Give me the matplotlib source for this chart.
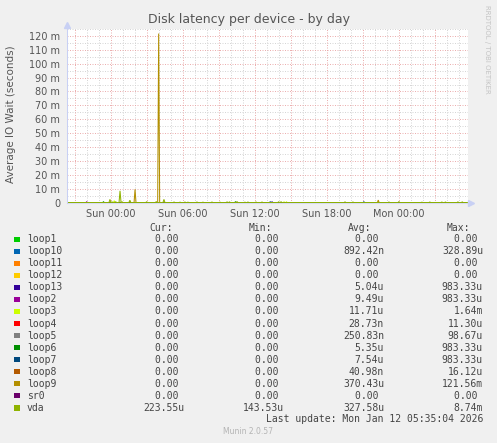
#!/usr/bin/env python3
# -*- coding: utf-8 -*-
"""
Munin style disk latency graph (by day), drawn with matplotlib.
"""

import matplotlib
matplotlib.use('Agg')
import matplotlib.pyplot as plt
from matplotlib.patches import Rectangle

W, H = 497, 443

series_names = ['loop1', 'loop10', 'loop11', 'loop12', 'loop13', 'loop2',
                'loop3', 'loop4', 'loop5', 'loop6', 'loop7', 'loop8',
                'loop9', 'sr0', 'vda']
series_colors = ['#00CC00', '#0066B3', '#FF8000', '#FFCC00', '#330099',
                 '#990099', '#CCFF00', '#FF0000', '#808080', '#008F00',
                 '#00487D', '#B35A00', '#B38F00', '#6B006B', '#8FB300']

cur_values = [0, 0, 0, 0, 0, 0, 0, 0, 0, 0, 0, 0, 0, 0, 223.55e-6]
min_values = [0, 0, 0, 0, 0, 0, 0, 0, 0, 0, 0, 0, 0, 0, 143.53e-6]
avg_values = [0, 892.42e-9, 0, 0, 5.04e-6, 9.49e-6, 11.71e-6, 28.73e-9,
              250.83e-9, 5.35e-6, 7.54e-6, 40.98e-9, 370.43e-6, 0,
              327.58e-6]
max_values = [0, 328.89e-6, 0, 0, 983.33e-6, 983.33e-6, 1.64e-3, 11.30e-6,
              98.67e-6, 983.33e-6, 983.33e-6, 16.12e-6, 121.56e-3, 0,
              8.74e-3]

# peaks, hours relative to Sun 00:00, values in milliseconds
vda_base_ms = 0.3
vda_peak_hours = [-0.06, 0.12, 0.42, 0.78, 0.96, 1.6, 3.0, 3.8, 4.44, 5.28,
                  5.78, 6.19, 6.44, 7.19, 7.69, 8.44, 9.11, 9.7, 9.9, 10.53,
                  11.19, 11.44, 12.11, 12.61, 14.0, 14.2, 19.53, 20.19,
                  23.19, 24.02, 25.94, 26.6, 27.6, 27.9, 28.94, 29.3]
vda_peak_ms = [2.6, 0.8, 0.9, 8.74, 0.8, 2.0, 0.9, 1.0, 2.6, 0.7,
               0.6, 0.7, 0.6, 0.7, 0.6, 0.7, 0.6, 0.8, 0.8, 1.0,
               0.6, 0.7, 0.7, 0.7, 0.9, 0.9, 0.8, 0.7,
               0.7, 1.0, 0.6, 0.7, 0.7, 0.7, 0.8, 0.8]
loop9_peak_hours = [2.03, 4.0, 22.3]
loop9_peak_ms = [9.8, 121.56, 2.1]
loop3_peak_hours = [0.3, 14.45, 14.65]
loop3_peak_ms = [1.64, 0.9, 0.9]
loop2_peak_hours = [-2.0]
loop2_peak_ms = [0.98]
loop6_peak_hours = [-0.6, 10.4]
loop6_peak_ms = [0.98, 0.98]
loop7_peak_hours = [13.3, 21.1]
loop7_peak_ms = [0.98, 0.98]
loop13_peak_hours = [13.45]
loop13_peak_ms = [0.98]
loop10_peak_hours = [21.25]
loop10_peak_ms = [0.33]
loop5_peak_hours = [16.0]
loop5_peak_ms = [0.1]

label_hours = [0, 6, 12, 18, 24]
label_texts = ['Sun 00:00', 'Sun 06:00', 'Sun 12:00', 'Sun 18:00',
               'Mon 00:00']

X_START, X_END = -3.64, 29.78
HALF = 0.083


def build_line(peak_hours, peak_ms, base=0.0):
    """
    Turns a list of peaks into a polyline over the whole time range
    """
    hours = [X_START]
    values = [base]
    for h, v in zip(peak_hours, peak_ms):
        hours += [h - HALF, h, h + HALF]
        values += [base, v, base]
    hours.append(X_END)
    values.append(base)
    return hours, values


def si(value):
    if value == 0:
        return '0.00 '
    for factor, suffix in ((1e-9, 'n'), (1e-6, 'u'), (1e-3, 'm')):
        if abs(value) < factor * 999.995:
            return '%.2f%s' % (value / factor, suffix)
    return '%.2f ' % value


def fx(x):
    return x / W


def fy(y):
    return 1 - y / H


peaks = {
    'vda': (vda_peak_hours, vda_peak_ms, vda_base_ms),
    'loop9': (loop9_peak_hours, loop9_peak_ms, 0.0),
    'loop3': (loop3_peak_hours, loop3_peak_ms, 0.0),
    'loop2': (loop2_peak_hours, loop2_peak_ms, 0.0),
    'loop6': (loop6_peak_hours, loop6_peak_ms, 0.0),
    'loop7': (loop7_peak_hours, loop7_peak_ms, 0.0),
    'loop13': (loop13_peak_hours, loop13_peak_ms, 0.0),
    'loop10': (loop10_peak_hours, loop10_peak_ms, 0.0),
    'loop5': (loop5_peak_hours, loop5_peak_ms, 0.0),
}

BG = '#F0F0F0'
figure = plt.figure(figsize=(W / 100, H / 100), dpi=100, facecolor=BG)
axes = figure.add_axes([fx(67), fy(203), (468 - 67) / W, (203 - 28.75) / H])
axes.set_facecolor('white')

for name, color in zip(series_names, series_colors):
    if name in peaks:
        hours, values = build_line(*peaks[name])
    else:
        hours, values = [X_START, X_END], [0.0, 0.0]
    axes.plot(hours, values, color=color, lw=0.75, zorder=3,
              solid_joinstyle='miter')

axes.set_xlim(X_START, X_END)
axes.set_ylim(0, 125)

# grid
for h in range(-3, 30):
    if h % 3:
        axes.axvline(h, color='#CFCFCF', lw=0.6, ls=(0, (1.2, 1.8)), zorder=1)
for h in range(-3, 30, 3):
    axes.axvline(h, color='#E8A0A0', lw=0.6, ls=(0, (1.2, 1.8)), zorder=2)
for v in range(5, 130, 10):
    axes.axhline(v, color='#CFCFCF', lw=0.6, ls=(0, (1.2, 1.8)), zorder=1)
for v in range(10, 130, 10):
    axes.axhline(v, color='#E8A0A0', lw=0.6, ls=(0, (1.2, 1.8)), zorder=2)

for side in axes.spines.values():
    side.set_visible(False)

# axes with arrows
AXIS = '#C8D0F4'
axes.plot([X_START, 30.0], [0, 0], color=AXIS, lw=0.75, clip_on=False,
          zorder=4, alpha=0.65)
axes.plot([X_START, X_START], [0, 127], color=AXIS, lw=0.75, clip_on=False,
          zorder=4)
axes.plot([30.05], [0], marker='>', ms=4, color=AXIS, mec=AXIS,
          clip_on=False, zorder=4)
axes.plot([X_START], [127.5], marker='^', ms=4, color=AXIS, mec=AXIS,
          clip_on=False, zorder=4)

axes.set_xticks(label_hours)
axes.set_xticklabels(label_texts)
y_ticks = list(range(0, 121, 10))
axes.set_yticks(y_ticks)
axes.set_yticklabels(['0'] + ['%d m' % v for v in y_ticks[1:]])
axes.tick_params(length=0, labelsize=7, colors='#555555')
axes.tick_params(axis='x', pad=4.5)
axes.tick_params(axis='y', pad=5)

figure.text(fx(248.5), fy(19.5), 'Disk latency per device - by day',
            ha='center', va='center', fontsize=9, color='#555555')
figure.text(fx(11), fy(114), 'Average IO Wait (seconds)', rotation=90,
            ha='center', va='center', fontsize=7.5, color='#555555')
figure.text(fx(487), fy(5), 'RRDTOOL / TOBI OETIKER', rotation=270,
            ha='center', va='top', fontsize=5, color='#C4C4C4')

# legend
MONO = dict(family='DejaVu Sans Mono', fontsize=7, color='#444444')
header_y = 228.3
for text, x in (('Cur:', 149), ('Min:', 249), ('Avg:', 348), ('Max:', 447)):
    figure.text(fx(x), fy(header_y), text, ha='left', va='center', **MONO)

for i, name in enumerate(series_names):
    y = 239.3 + i * 12.03
    figure.add_artist(Rectangle((fx(14), fy(y + 2.8)), 5.5 / W, 5.5 / H,
                                transform=figure.transFigure,
                                color=series_colors[i], lw=0))
    figure.text(fx(27), fy(y), name, ha='left', va='center', **MONO)
    for values, x in ((cur_values, 184), (min_values, 284),
                      (avg_values, 384), (max_values, 483)):
        figure.text(fx(x), fy(y), si(values[i]), ha='right', va='center',
                    **MONO)

figure.text(fx(483), fy(419.5), 'Last update: Mon Jan 12 05:35:04 2026',
            ha='right', va='center', **MONO)
figure.text(fx(248), fy(432), 'Munin 2.0.57', ha='center', va='center',
            fontsize=5.5, color='#B4B4B4')

figure.savefig('out.png', dpi=100, facecolor=BG)
plt.close()
